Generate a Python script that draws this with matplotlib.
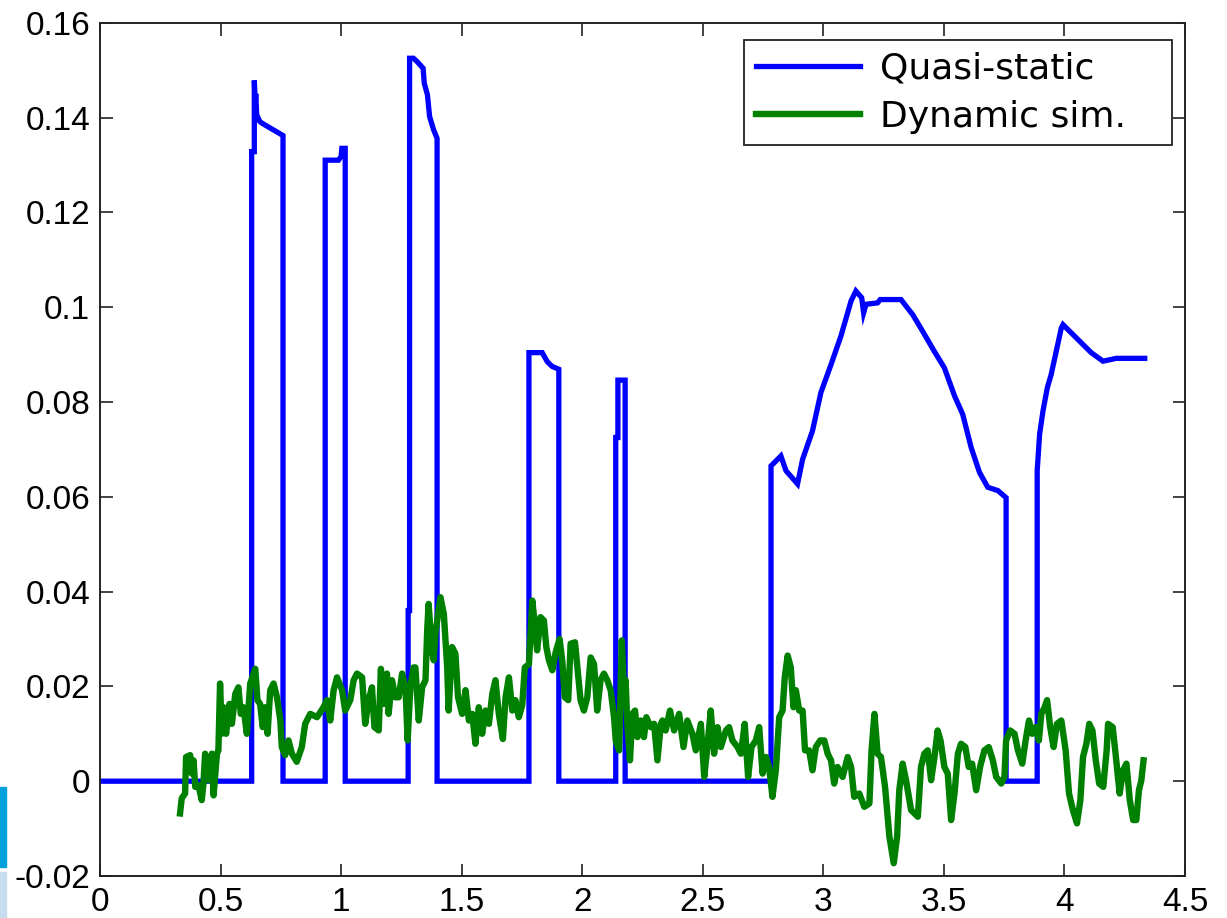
import numpy as np
import matplotlib
matplotlib.use("Agg")
import matplotlib.pyplot as plt
from matplotlib.patches import Rectangle
import matplotlib.ticker as ticker

plt.rcParams["axes.unicode_minus"] = False

# Quasi-static curve (step-like, vertical jumps as repeated x)
QS_X = [0.000, 0.629, 0.629, 0.640, 0.640, 0.644, 0.646, 0.650, 0.662, 0.672, 0.759, 0.759,
        0.934, 0.934, 0.989, 1.000, 1.003, 1.017, 1.017,
        1.278, 1.278, 1.284, 1.284, 1.300, 1.315, 1.340, 1.345, 1.358, 1.367, 1.383, 1.398, 1.398,
        1.779, 1.779, 1.834, 1.855, 1.875, 1.903, 1.903,
        2.139, 2.139, 2.148, 2.148, 2.178, 2.178,
        2.783, 2.783, 2.824, 2.845, 2.893, 2.914, 2.955, 2.990, 3.032, 3.073, 3.115, 3.135,
        3.159, 3.167, 3.177, 3.225, 3.236, 3.322, 3.371, 3.412, 3.460, 3.502, 3.544, 3.578,
        3.613, 3.648, 3.682, 3.724, 3.758, 3.758,
        3.887, 3.887, 3.897, 3.911, 3.929, 3.945, 3.966, 3.987, 3.994, 4.111, 4.160, 4.215, 4.333]
QS_Y = [0.0, 0.0, 0.1328, 0.1328, 0.1478, 0.1430, 0.1450, 0.1406, 0.1392, 0.1388, 0.1362, 0.0,
        0.0, 0.1310, 0.1310, 0.1318, 0.1335, 0.1335, 0.0,
        0.0, 0.0360, 0.0360, 0.1525, 0.1525, 0.1518, 0.1504, 0.1472, 0.1448, 0.1402, 0.1375, 0.1356, 0.0,
        0.0, 0.0904, 0.0904, 0.0885, 0.0875, 0.0869, 0.0,
        0.0, 0.0725, 0.0725, 0.0846, 0.0846, 0.0,
        0.0, 0.0665, 0.0686, 0.0655, 0.0627, 0.0679, 0.0739, 0.0820, 0.0879, 0.0939, 0.1013, 0.1034,
        0.1020, 0.0988, 0.1006, 0.1009, 0.1016, 0.1016, 0.0984, 0.0949, 0.0907, 0.0872, 0.0813, 0.0774,
        0.0704, 0.0651, 0.0620, 0.0613, 0.0598, 0.0,
        0.0, 0.0655, 0.0732, 0.0781, 0.0830, 0.0858, 0.0907, 0.0956, 0.0963, 0.0904, 0.0886, 0.0892, 0.0892]

# Dynamic simulation
DYN_X = [0.332, 0.339, 0.353, 0.357, 0.374, 0.381, 0.388, 0.395, 0.408, 0.422, 0.429, 0.436,
         0.450, 0.464, 0.471, 0.485, 0.491, 0.498, 0.505, 0.512, 0.523, 0.537, 0.547, 0.561,
         0.574, 0.584, 0.595, 0.609, 0.623, 0.644, 0.653, 0.664, 0.675, 0.685, 0.695, 0.706,
         0.720, 0.734, 0.748, 0.754, 0.768, 0.782, 0.796, 0.816, 0.837, 0.851, 0.872, 0.900,
         0.927, 0.941, 0.955, 0.969, 0.983, 1.004, 1.017, 1.038, 1.052, 1.066, 1.087, 1.100,
         1.114, 1.128, 1.138, 1.156, 1.165, 1.177, 1.190, 1.197, 1.211, 1.225, 1.239, 1.253,
         1.267, 1.276, 1.287, 1.301, 1.308, 1.322, 1.336, 1.350, 1.357, 1.363, 1.375, 1.384,
         1.391, 1.412, 1.426, 1.440, 1.446, 1.460, 1.474, 1.485, 1.502, 1.516, 1.530, 1.544,
         1.557, 1.571, 1.585, 1.599, 1.613, 1.627, 1.640, 1.654, 1.671, 1.682, 1.696, 1.710,
         1.723, 1.737, 1.751, 1.762, 1.779, 1.793, 1.803, 1.813, 1.827, 1.841, 1.851, 1.862,
         1.876, 1.890, 1.906, 1.917, 1.928, 1.942, 1.952, 1.970, 1.980, 1.993, 2.007, 2.021,
         2.035, 2.049, 2.062, 2.076, 2.090, 2.104, 2.118, 2.132, 2.139, 2.153, 2.164, 2.173,
         2.180, 2.187, 2.198, 2.208, 2.219, 2.229, 2.243, 2.256, 2.266, 2.284, 2.298, 2.312,
         2.326, 2.333, 2.346, 2.364, 2.381, 2.402, 2.420, 2.436, 2.457, 2.471, 2.492, 2.506,
         2.519, 2.533, 2.547, 2.561, 2.575, 2.596, 2.609, 2.623, 2.644, 2.658, 2.674, 2.688,
         2.702, 2.720, 2.734, 2.748, 2.762, 2.775, 2.789, 2.803, 2.817, 2.831, 2.840, 2.852,
         2.865, 2.876, 2.886, 2.900, 2.914, 2.924, 2.941, 2.955, 2.969, 2.987, 3.004, 3.018,
         3.032, 3.045, 3.059, 3.080, 3.101, 3.115, 3.128, 3.149, 3.170, 3.191, 3.200, 3.212,
         3.225, 3.239, 3.256, 3.274, 3.292, 3.306, 3.315, 3.329, 3.343, 3.364, 3.392, 3.405,
         3.419, 3.433, 3.447, 3.461, 3.474, 3.486, 3.502, 3.516, 3.530, 3.544, 3.558, 3.571,
         3.589, 3.603, 3.617, 3.634, 3.650, 3.668, 3.686, 3.703, 3.717, 3.738, 3.751, 3.758,
         3.775, 3.793, 3.807, 3.825, 3.839, 3.853, 3.866, 3.880, 3.894, 3.904, 3.918, 3.928,
         3.941, 3.955, 3.969, 3.987, 4.005, 4.019, 4.035, 4.052, 4.066, 4.077, 4.091, 4.103,
         4.116, 4.130, 4.144, 4.161, 4.175, 4.181, 4.200, 4.212, 4.229, 4.243, 4.257, 4.271,
         4.285, 4.298, 4.309, 4.319, 4.328]
DYN_Y = [-0.0068, -0.0036, -0.0026, 0.0051, 0.0055, 0.0016, 0.0044, -0.0012, -0.0008, -0.0040, -0.0005, 0.0058,
         0.0002, 0.0058, -0.0030, 0.0058, 0.0065, 0.0206, 0.0100, 0.0156, 0.0100, 0.0163, 0.0121, 0.0184,
         0.0198, 0.0142, 0.0156, 0.0100, 0.0206, 0.0237, 0.0171, 0.0163, 0.0114, 0.0156, 0.0100, 0.0192,
         0.0206, 0.0177, 0.0128, 0.0072, 0.0055, 0.0086, 0.0058, 0.0041, 0.0072, 0.0121, 0.0142, 0.0135,
         0.0156, 0.0171, 0.0128, 0.0192, 0.0219, 0.0192, 0.0149, 0.0171, 0.0213, 0.0227, 0.0219, 0.0121,
         0.0171, 0.0198, 0.0114, 0.0107, 0.0237, 0.0163, 0.0227, 0.0142, 0.0213, 0.0177, 0.0177, 0.0227,
         0.0198, 0.0086, 0.0198, 0.0240, 0.0240, 0.0128, 0.0198, 0.0213, 0.0318, 0.0374, 0.0283, 0.0255,
         0.0311, 0.0388, 0.0353, 0.0240, 0.0149, 0.0283, 0.0269, 0.0177, 0.0142, 0.0192, 0.0128, 0.0142,
         0.0079, 0.0156, 0.0100, 0.0149, 0.0121, 0.0184, 0.0213, 0.0142, 0.0089, 0.0177, 0.0219, 0.0149,
         0.0171, 0.0135, 0.0160, 0.0240, 0.0247, 0.0381, 0.0332, 0.0276, 0.0346, 0.0339, 0.0283, 0.0255,
         0.0234, 0.0272, 0.0300, 0.0255, 0.0177, 0.0171, 0.0290, 0.0293, 0.0240, 0.0171, 0.0149, 0.0177,
         0.0261, 0.0247, 0.0149, 0.0213, 0.0227, 0.0213, 0.0192, 0.0135, 0.0086, 0.0065, 0.0297, 0.0192,
         0.0213, 0.0121, 0.0044, 0.0142, 0.0149, 0.0093, 0.0128, 0.0093, 0.0135, 0.0114, 0.0121, 0.0044,
         0.0121, 0.0128, 0.0107, 0.0149, 0.0107, 0.0142, 0.0072, 0.0128, 0.0100, 0.0065, 0.0121, 0.0009,
         0.0072, 0.0149, 0.0058, 0.0114, 0.0072, 0.0107, 0.0114, 0.0086, 0.0072, 0.0058, 0.0121, 0.0009,
         0.0072, 0.0086, 0.0114, 0.0016, 0.0051, 0.0030, -0.0033, 0.0023, 0.0135, 0.0149, 0.0219, 0.0265,
         0.0240, 0.0156, 0.0192, 0.0149, 0.0149, 0.0065, 0.0065, 0.0023, 0.0072, 0.0086, 0.0086, 0.0058,
         0.0044, -0.0005, 0.0030, 0.0009, 0.0051, 0.0030, -0.0033, -0.0026, -0.0054, -0.0047, 0.0065, 0.0142,
         0.0058, 0.0051, -0.0012, -0.0117, -0.0173, -0.0117, -0.0019, 0.0037, 0.0002, -0.0061, -0.0075, 0.0030,
         0.0058, 0.0065, 0.0002, 0.0051, 0.0107, 0.0086, 0.0030, 0.0016, -0.0082, -0.0026, 0.0058, 0.0079,
         0.0072, 0.0030, 0.0037, -0.0019, 0.0030, 0.0065, 0.0072, 0.0044, 0.0009, -0.0005, 0.0009, 0.0086,
         0.0107, 0.0100, 0.0065, 0.0037, 0.0086, 0.0128, 0.0100, 0.0114, 0.0086, 0.0142, 0.0156, 0.0171,
         0.0114, 0.0072, 0.0121, 0.0128, 0.0065, -0.0026, -0.0061, -0.0089, -0.0040, 0.0051, 0.0079, 0.0121,
         0.0107, 0.0044, -0.0005, -0.0012, 0.0065, 0.0121, 0.0114, 0.0058, -0.0026, 0.0023, 0.0037, -0.0040,
         -0.0082, -0.0082, -0.0019, 0.0002, 0.0044]

LABELS = ["Quasi-static", "Dynamic sim."]
X_TICKS = [0, 0.5, 1, 1.5, 2, 2.5, 3, 3.5, 4, 4.5]
Y_TICKS = [-0.02, 0, 0.02, 0.04, 0.06, 0.08, 0.1, 0.12, 0.14, 0.16]

W, H = 1227, 918
fig = plt.figure(figsize=(W / 100, H / 100), dpi=100)
ax = fig.add_axes([100 / W, 1 - 876 / H, 1085 / W, 853.3 / H])

ax.plot(QS_X, QS_Y, color="#0000ff", lw=3.8, label=LABELS[0], solid_joinstyle="miter")
ax.plot(DYN_X, DYN_Y, color="#008000", lw=4.6, label=LABELS[1])

ax.set_xlim(0, 4.5)
ax.set_ylim(-0.02, 0.16)
ax.set_xticks(X_TICKS)
ax.set_yticks(Y_TICKS)
fmt = ticker.FuncFormatter(lambda v, p: f"{v:g}")
ax.xaxis.set_major_formatter(fmt)
ax.yaxis.set_major_formatter(fmt)
ax.tick_params(direction="in", length=9, width=1.2, color="#222222",
               top=True, right=True, labelsize=24, pad=7)
ax.tick_params(axis="x", pad=8)
for lab in ax.get_xticklabels() + ax.get_yticklabels():
    lab.set_family("Liberation Sans")
for sp in ax.spines.values():
    sp.set_linewidth(1.4)
    sp.set_color("#222222")

# legend box spans a fixed width, like the MATLAB one
leg = ax.legend(loc="upper left", bbox_to_anchor=(0.5935, 0.5, 0.3945, 0.4797), mode="expand",
                borderaxespad=0, fancybox=False, framealpha=1, edgecolor="#222222",
                prop={"family": "DejaVu Sans", "size": 26},
                handlelength=2.9, handletextpad=0.55, borderpad=0.32, labelspacing=0.39)
leg.get_frame().set_linewidth(1.3)

# slide remnants at the left edge
fig.patches.append(Rectangle((0, 1 - 867 / H), 5.5 / W, 80 / H, transform=fig.transFigure,
                             color="#00a0dc", zorder=0))
fig.patches.append(Rectangle((0, 0), 5.5 / W, 46 / H, transform=fig.transFigure,
                             color="#c8dcef", zorder=0))

fig.savefig("out.png", dpi=100)
